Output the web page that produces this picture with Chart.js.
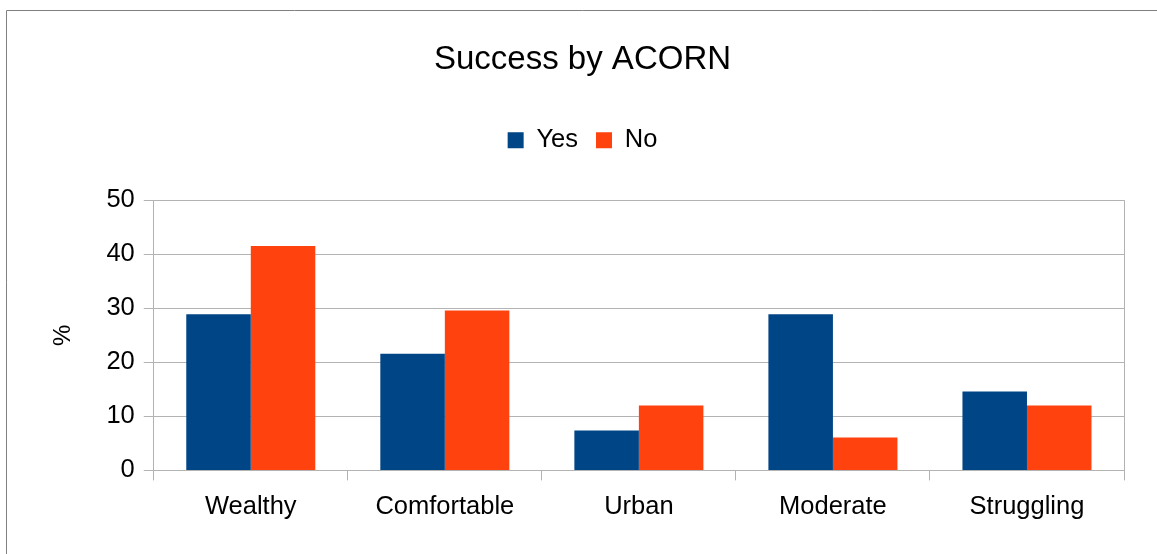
<!DOCTYPE html>
<html>
<head>
<meta charset="utf-8">
<script src="https://cdn.jsdelivr.net/npm/chart.js@4"></script>
<style>
  html, body { margin: 0; padding: 0; background: #fff; }
  #wrap { width: 1157px; height: 554px; }
</style>
</head>
<body>
<div id="wrap"><canvas id="acornChart" width="1157" height="554"></canvas></div>
<script>
// data
const categories = ['Wealthy', 'Comfortable', 'Urban', 'Moderate', 'Struggling'];
const yesValues = [28.9, 21.6, 7.4, 28.9, 14.6];
const noValues = [41.5, 29.6, 12.0, 6.1, 12.0];
const yTicks = [0, 10, 20, 30, 40, 50];

const gridGrey = '#b3b3b3';
const textSize = 25.5;

// outer frame and right edge of the plot
const frame = {
  id: 'frame',
  afterDraw(chart) {
    const ctx = chart.ctx;
    const a = chart.chartArea;
    ctx.save();
    ctx.strokeStyle = '#808080';
    ctx.lineWidth = 1;
    ctx.beginPath();
    ctx.moveTo(6.5, 560);
    ctx.lineTo(6.5, 10.5);
    ctx.lineTo(1160, 10.5);
    ctx.stroke();
    ctx.strokeStyle = gridGrey;
    ctx.beginPath();
    ctx.moveTo(Math.round(a.right) + 0.5, a.top);
    ctx.lineTo(Math.round(a.right) + 0.5, a.bottom);
    ctx.stroke();
    ctx.restore();
  }
};

// extra room under the legend
const legendGap = {
  id: 'legendGap',
  beforeUpdate(chart) {
    const lg = chart.legend;
    if (lg && !lg._gapPatched) {
      const fit = lg.fit;
      lg.fit = function () {
        fit.call(this);
        this.height += 37;
      };
      lg._gapPatched = true;
    }
  }
};

Chart.defaults.font.family = '"Liberation Sans", Arial, sans-serif';
Chart.defaults.color = '#000';

new Chart(document.getElementById('acornChart').getContext('2d'), {
  type: 'bar',
  data: {
    labels: categories,
    datasets: [
      { label: 'Yes', data: yesValues, backgroundColor: '#004586', borderWidth: 0 },
      { label: 'No', data: noValues, backgroundColor: '#ff420e', borderWidth: 0 }
    ]
  },
  options: {
    responsive: false,
    animation: false,
    layout: { padding: { top: 0, left: 41, right: 33, bottom: 21 } },
    datasets: { bar: { categoryPercentage: 0.665, barPercentage: 1 } },
    plugins: {
      title: {
        display: true,
        text: 'Success by ACORN',
        font: { size: 33, weight: 'normal' },
        color: '#000',
        padding: { top: 40, bottom: 30 }
      },
      legend: {
        display: true,
        labels: {
          boxWidth: 16,
          boxHeight: 16,
          font: { size: textSize },
          color: '#000',
          padding: 18
        }
      },
      tooltip: { enabled: false }
    },
    scales: {
      x: {
        grid: { display: true, drawOnChartArea: false, offset: true, tickLength: 10, color: gridGrey },
        border: { display: true, color: gridGrey },
        ticks: { font: { size: textSize }, color: '#000', padding: 11 }
      },
      y: {
        min: 0,
        max: 50,
        afterBuildTicks(scale) { scale.ticks = yTicks.map(v => ({ value: v })); },
        grid: { color: gridGrey, tickLength: 10 },
        border: { display: true, color: gridGrey },
        ticks: { font: { size: textSize }, color: '#000', padding: 9 },
        title: {
          display: true,
          text: '%',
          font: { size: 24 },
          color: '#000',
          padding: { top: 7.6, bottom: 20 }
        }
      }
    }
  },
  plugins: [frame, legendGap]
});
</script>
</body>
</html>
